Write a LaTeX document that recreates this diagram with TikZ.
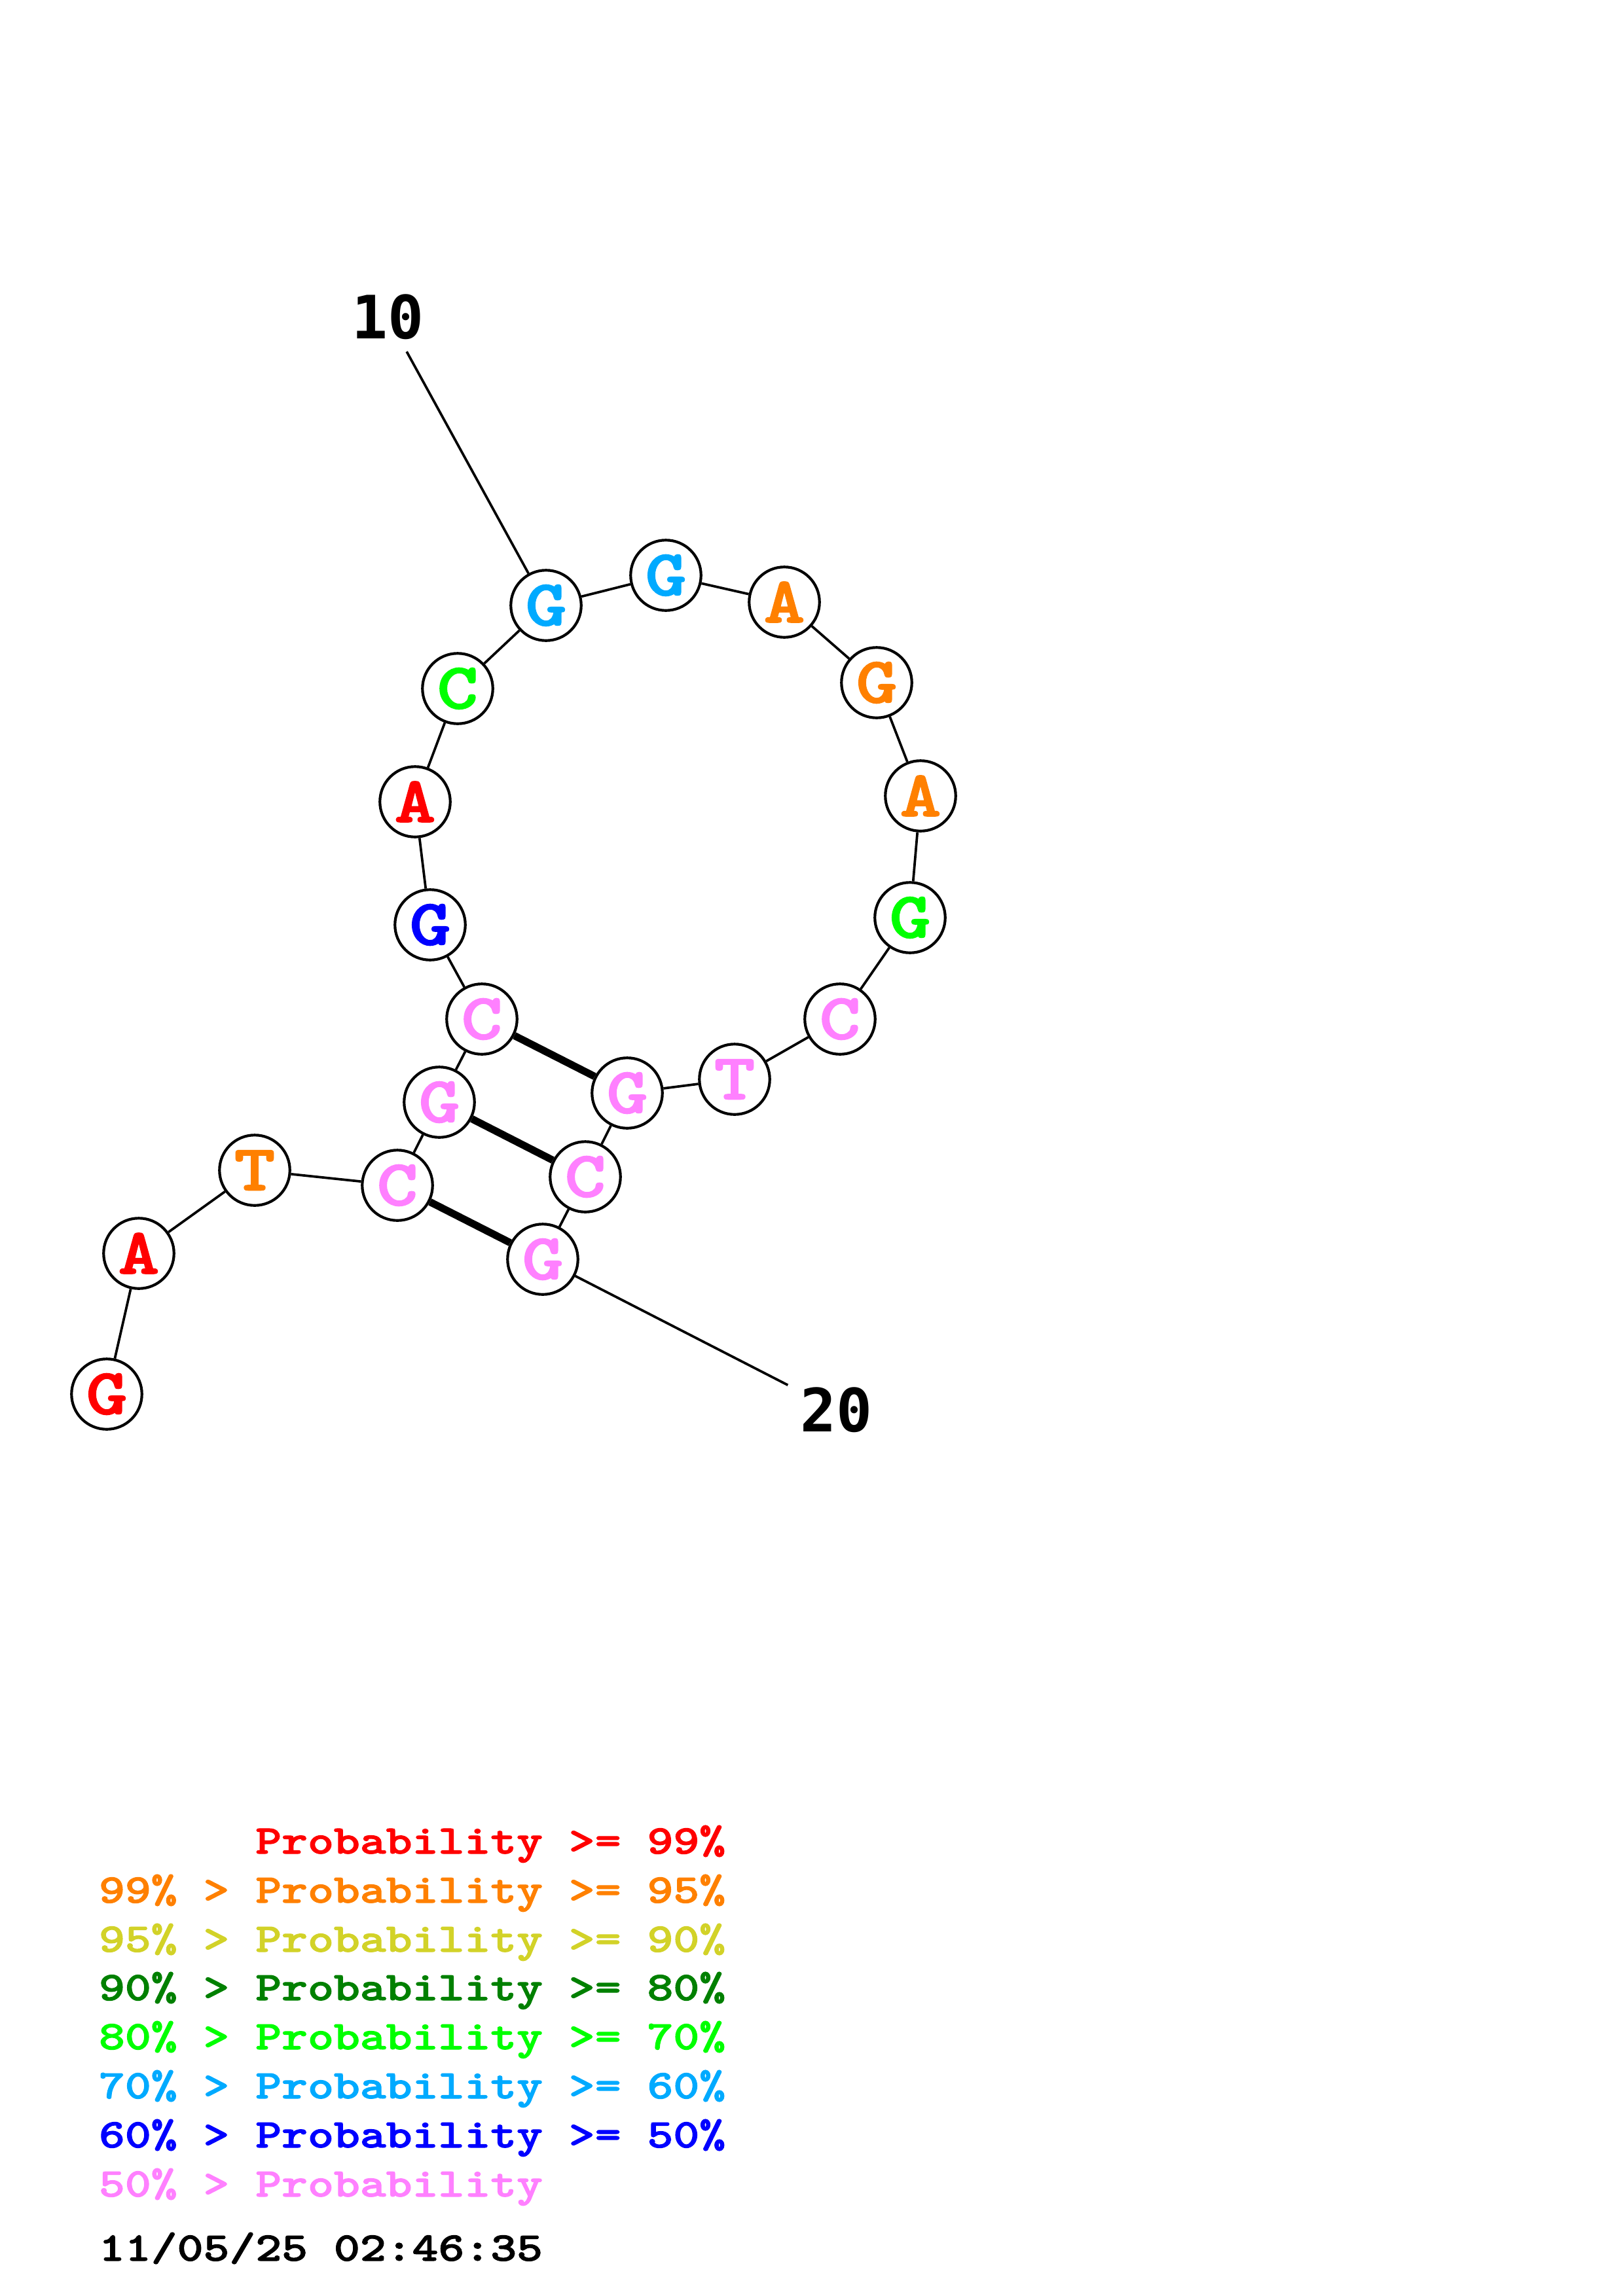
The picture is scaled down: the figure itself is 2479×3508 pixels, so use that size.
\documentclass[tikz,border=0pt]{standalone}
\usepackage{fontspec}
\usepackage{graphicx}
\usepackage{tikz}
\usetikzlibrary{positioning}

\newfontfamily\numfont{DejaVu Sans Mono}
\newfontfamily\courfont{lmmonolt10-bold.otf}[FakeBold=1.6]
\newcommand{\nucfont}{\courfont\fontsize{24}{24}\selectfont}
\newcommand{\legfont}{\courfont\fontsize{15}{15}\selectfont}
\newcommand{\nuc}[1]{\scalebox{1.2}[1]{#1}}

\definecolor{pr99}{RGB}{255,0,0}
\definecolor{pr95}{RGB}{255,128,0}
\definecolor{pr90}{RGB}{210,210,40}
\definecolor{pr80}{RGB}{0,128,0}
\definecolor{pr70}{RGB}{0,255,0}
\definecolor{pr60}{RGB}{0,170,255}
\definecolor{pr50}{RGB}{0,0,255}
\definecolor{prlow}{RGB}{255,128,255}

\tikzset{
  nucl/.style={circle, draw, fill=white, line width=1pt, minimum size=9.1mm,
    inner sep=0pt, font=\nucfont},
  bb/.style={line width=0.9pt},
  pair/.style={line width=2.7pt},
  numlabel/.style={inner sep=4.3pt, font=\numfont\bfseries\fontsize{22}{22}\selectfont},
  legline/.style={anchor=base west, inner sep=0pt, xscale=1.22, font=\legfont}
}

\begin{document}
\begin{tikzpicture}[x=0.08467mm, y=-0.08467mm]
        \useasboundingbox (0,0) rectangle (2479,3508);
        % Bases
        \node[nucl, text=pr99] (n1) at (163,2130) {\nuc{G}};
        \node[nucl, text=pr99] (n2) at (212,1915) {\nuc{A}};
        \node[nucl, text=pr95] (n3) at (389,1788) {\nuc{T}};
        \node[nucl, text=prlow] (n4) at (607,1811) {\nuc{C}};
        \node[nucl, text=prlow] (n5) at (671,1684) {\nuc{G}};
        \node[nucl, text=prlow] (n6) at (736,1557) {\nuc{C}};
        \node[nucl, text=pr50] (n7) at (657,1413) {\nuc{G}};
        \node[nucl, text=pr99] (n8) at (634,1225) {\nuc{A}};
        \node[nucl, text=pr70] (n9) at (699,1052) {\nuc{C}};
        \node[nucl, text=pr60] (n10) at (834,925) {\nuc{G}};
        \node[nucl, text=pr60] (n11) at (1017,879) {\nuc{G}};
        \node[nucl, text=pr95] (n12) at (1198,920) {\nuc{A}};
        \node[nucl, text=pr95] (n13) at (1339,1043) {\nuc{G}};
        \node[nucl, text=pr95] (n14) at (1406,1216) {\nuc{A}};
        \node[nucl, text=pr70] (n15) at (1390,1402) {\nuc{G}};
        \node[nucl, text=prlow] (n16) at (1283,1557) {\nuc{C}};
        \node[nucl, text=prlow] (n17) at (1122,1649) {\nuc{T}};
        \node[nucl, text=prlow] (n18) at (958,1670) {\nuc{G}};
        \node[nucl, text=prlow] (n19) at (894,1798) {\nuc{C}};
        \node[nucl, text=prlow] (n20) at (829,1924) {\nuc{G}};
        % Backbone
        \foreach \i [evaluate=\i as \j using int(\i+1)] in {1,...,19}
          \draw[bb] (n\i) -- (n\j);
        % Pairs
        \draw[pair] (n6) -- (n18);
        \draw[pair] (n5) -- (n19);
        \draw[pair] (n4) -- (n20);
        % Numbering
        \node[numlabel] (l10) at (592,484) {10};
        \node[numlabel] (l20) at (1277,2154) {20};
        \draw[bb] (l10) -- (n10);
        \draw[bb] (n20) -- (l20);
        % Legend
        \node[legline, text=pr99] (leg1) at (150,2832) {\hphantom{99\% > }Probability >= 99\%};
        \node[legline, text=pr95] (leg2) at (150,2907) {99\% > Probability >= 95\%};
        \node[legline, text=pr90] (leg3) at (150,2982) {95\% > Probability >= 90\%};
        \node[legline, text=pr80] (leg4) at (150,3056) {90\% > Probability >= 80\%};
        \node[legline, text=pr70] (leg5) at (150,3131) {80\% > Probability >= 70\%};
        \node[legline, text=pr60] (leg6) at (150,3206) {70\% > Probability >= 60\%};
        \node[legline, text=pr50] (leg7) at (150,3281) {60\% > Probability >= 50\%};
        \node[legline, text=prlow] (leg8) at (150,3356) {50\% > Probability};
        \node[legline] (date) at (150,3454) {11/05/25 02:46:35};
    \end{tikzpicture}
\end{document}
